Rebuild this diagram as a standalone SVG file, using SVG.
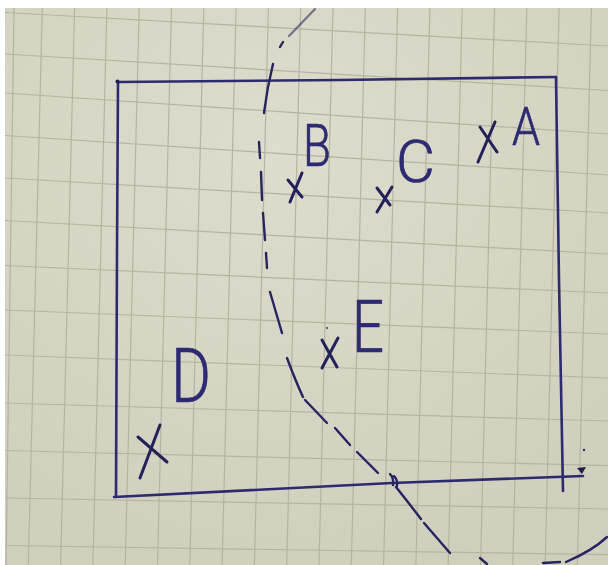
<svg xmlns="http://www.w3.org/2000/svg" width="608" height="565" viewBox="0 0 608 565">
  <defs>
    <radialGradient id="paperGrad" cx="0.45" cy="0.25" r="0.8">
      <stop offset="0" stop-color="#dedccc"/>
      <stop offset="1" stop-color="#d0cebc"/>
    </radialGradient>
  </defs>
  <style>
    .grid line { stroke: #b6b4a1; stroke-width: 1.2; }
    .ink { stroke: #2c2b6e; fill: none; stroke-linecap: round; stroke-linejoin: round; }
    .edge { stroke-width: 2.6; }
    .dash { stroke-width: 2.4; stroke: #262560; }
    .cross { stroke: #22215a; stroke-width: 3; fill: none; stroke-linecap: round; }
    .lbl { font-family: Roboto, Inter, "Open Sans", "Liberation Sans", sans-serif; font-weight: 300; fill: #2c2b72; stroke: #2c2b72; stroke-width: 0.7; }
  </style>

  <!-- paper -->
  <rect x="0" y="0" width="608" height="565" fill="#ffffff"/>
  <rect x="5" y="8" width="603" height="557" fill="url(#paperGrad)"/>

  <!-- grid -->
  <g class="grid" id="grid">
    <line x1="5" y1="12.5" x2="608" y2="46"/>
    <line x1="5" y1="54" x2="608" y2="90.5"/>
    <line x1="5" y1="93" x2="608" y2="134"/>
    <line x1="5" y1="135.5" x2="608" y2="175"/>
    <line x1="5" y1="178" x2="608" y2="213"/>
    <line x1="5" y1="220.5" x2="608" y2="254"/>
    <line x1="5" y1="265.5" x2="608" y2="293"/>
    <line x1="5" y1="310" x2="608" y2="334"/>
    <line x1="5" y1="355" x2="608" y2="378"/>
    <line x1="5" y1="403" x2="608" y2="421"/>
    <line x1="5" y1="450.5" x2="608" y2="465.7"/>
    <line x1="5" y1="498" x2="608" y2="509"/>
    <line x1="5" y1="545.5" x2="608" y2="554.6"/>

    <line x1="14" y1="8" x2="6" y2="565"/>
    <line x1="42.3" y1="8" x2="28.3" y2="565"/>
    <line x1="74.6" y1="8" x2="60.6" y2="565"/>
    <line x1="106.9" y1="8" x2="92.9" y2="565"/>
    <line x1="139.2" y1="8" x2="125.2" y2="565"/>
    <line x1="171.5" y1="8" x2="157.5" y2="565"/>
    <line x1="203.8" y1="8" x2="189.8" y2="565"/>
    <line x1="236.1" y1="8" x2="222.1" y2="565"/>
    <line x1="268.4" y1="8" x2="254.4" y2="565"/>
    <line x1="300.7" y1="8" x2="286.7" y2="565"/>
    <line x1="333" y1="8" x2="319" y2="565"/>
    <line x1="365.3" y1="8" x2="351.3" y2="565"/>
    <line x1="397.6" y1="8" x2="383.6" y2="565"/>
    <line x1="429.9" y1="8" x2="415.9" y2="565"/>
    <line x1="462.2" y1="8" x2="448.2" y2="565"/>
    <line x1="494.5" y1="8" x2="480.5" y2="565"/>
    <line x1="526.8" y1="8" x2="512.8" y2="565"/>
    <line x1="559.1" y1="8" x2="545.1" y2="565"/>
    <line x1="591.4" y1="8" x2="577.4" y2="565"/>
  </g>

  <!-- square boundary -->
  <g id="square" class="ink edge">
    <path d="M118,82 L340,80 L556,77"/>
    <path d="M118,82 L117,250 L116,497"/>
    <path d="M556,77 L559,280 L563,491"/>
    <path d="M114,497 L392,483 L583,476"/>
    <circle cx="117.5" cy="81.5" r="2" fill="#1e1d50" stroke="none"/>
    <path d="M577,468 L586,467 L582,474 Z" fill="#1e1d50" stroke="none"/>
    <circle cx="584" cy="450" r="1.3" fill="#3a3970" stroke="none"/>
  </g>

  <!-- dashed curve -->
  <g id="curve" class="ink dash">
    <path d="M315,9 L289,36" stroke-opacity="0.55"/>
    <path d="M283,42 L280,47"/>
    <path d="M273,64 Q267,88 264,113"/>
    <path d="M259,142 L260,158"/>
    <path d="M261,172 L262,200"/>
    <path d="M263,213 L265,240"/>
    <path d="M266,253 L267,268"/>
    <path d="M270,292 L282,333"/>
    <path d="M287,358 Q296,382 303,397"/>
    <path d="M305,400 L327,423"/>
    <path d="M335,428 L350,445"/>
    <path d="M357,452 L378,473"/>
    <path d="M390,474 Q394,478 393,485 M394,476 Q398,480 397,486"/>
    <path d="M396,487 Q408,502 421,519"/>
    <path d="M424,523 Q437,538 450,553"/>
    <path d="M480,558 L487,564"/>
    <path d="M543,563 L560,562"/>
    <path d="M607,537 Q592,551 566,562"/>
  </g>

  <!-- points -->
  <g id="node-A">
    <path class="cross" d="M480,127 L497,152 M495,122 L478,162"/>
    <text class="lbl" x="512" y="145" font-size="53" textLength="28" lengthAdjust="spacingAndGlyphs">A</text>
  </g>
  <g id="node-B">
    <path class="cross" d="M288,180 L302,197 M302,173 L290,202"/>
    <text class="lbl" x="303" y="166" font-size="60" textLength="28" lengthAdjust="spacingAndGlyphs">B</text>
  </g>
  <g id="node-C">
    <path class="cross" d="M377,188 L390,205 M392,187 L377,212"/>
    <text class="lbl" x="396" y="182" font-size="60" textLength="39" lengthAdjust="spacingAndGlyphs">C</text>
  </g>
  <g id="node-D">
    <path class="cross" d="M138,437 L167,462 M160,425 L140,478"/>
    <text class="lbl" x="171" y="402" font-size="76" textLength="40" lengthAdjust="spacingAndGlyphs">D</text>
  </g>
  <g id="node-E">
    <path class="cross" d="M322,340 L337,367 M338,338 L322,368"/>
    <circle cx="327" cy="328" r="1" fill="#3a3970"/>
    <text class="lbl" x="352" y="352" font-size="72" textLength="32" lengthAdjust="spacingAndGlyphs">E</text>
  </g>
</svg>
